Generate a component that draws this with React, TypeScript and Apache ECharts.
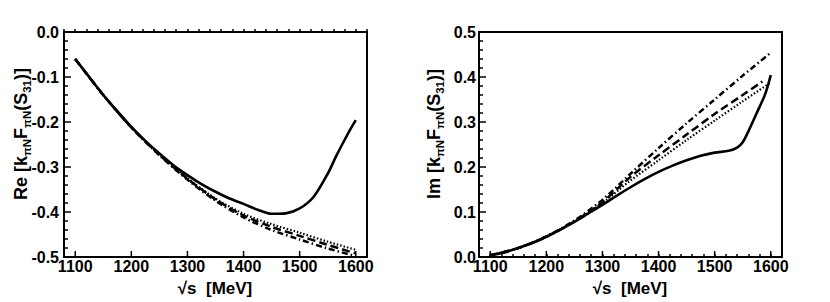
import React, { useEffect, useRef } from "react";
import * as echarts from "echarts";

// ---- data (sqrt(s) in MeV) ----
const X_MIN = 1080;
const X_MAX = 1620;
const X_MAJOR = [1100, 1200, 1300, 1400, 1500, 1600];

// Re part, left panel
const reSolidX = [1100, 1125, 1150, 1175, 1200, 1225, 1250, 1275, 1300, 1325, 1350, 1375, 1400, 1425, 1450, 1475, 1500, 1525, 1550, 1565, 1580, 1590, 1600];
const reSolidY = [-0.060, -0.100, -0.140, -0.176, -0.211, -0.242, -0.270, -0.296, -0.318, -0.338, -0.355, -0.370, -0.382, -0.395, -0.404, -0.403, -0.392, -0.366, -0.315, -0.276, -0.240, -0.217, -0.196];

const reOtherX = [1100, 1150, 1200, 1250, 1300, 1350, 1400, 1450, 1500, 1550, 1600];
const reDotted = [-0.060, -0.140, -0.212, -0.272, -0.325, -0.370, -0.404, -0.427, -0.446, -0.466, -0.484];
const reDashed = [-0.060, -0.140, -0.212, -0.273, -0.326, -0.372, -0.408, -0.433, -0.453, -0.473, -0.492];
const reDashDot = [-0.060, -0.140, -0.212, -0.274, -0.328, -0.375, -0.412, -0.440, -0.461, -0.481, -0.498];

// Im part, right panel
const imSolidX = [1100, 1125, 1150, 1175, 1200, 1225, 1250, 1275, 1300, 1325, 1350, 1375, 1400, 1425, 1450, 1475, 1500, 1525, 1540, 1550, 1560, 1575, 1590, 1600];
const imSolidY = [0.004, 0.010, 0.020, 0.031, 0.045, 0.061, 0.078, 0.097, 0.116, 0.136, 0.155, 0.173, 0.189, 0.203, 0.215, 0.225, 0.232, 0.236, 0.243, 0.255, 0.279, 0.320, 0.362, 0.404];

const imOtherX = [1100, 1150, 1200, 1250, 1300, 1350, 1400, 1450, 1500, 1550, 1600];
const imDotted = [0.004, 0.020, 0.045, 0.079, 0.120, 0.170, 0.215, 0.260, 0.303, 0.346, 0.388];
const imDashedX = [1100, 1150, 1200, 1250, 1300, 1350, 1400, 1450, 1500, 1550, 1585];
const imDashed = [0.004, 0.020, 0.045, 0.079, 0.122, 0.178, 0.226, 0.272, 0.318, 0.360, 0.390];
const imDashDot = [0.004, 0.020, 0.046, 0.081, 0.127, 0.185, 0.242, 0.297, 0.350, 0.403, 0.454];

const FONT = "Liberation Sans";

const zip = (xs: number[], ys: number[]) => xs.map((x, i) => [x, ys[i]]);

export default function App() {
  const ref = useRef<HTMLDivElement>(null);

  useEffect(() => {
    if (!ref.current) return;
    const chart = echarts.init(ref.current, undefined, { renderer: "svg" });

    const mkX = (gridIndex: number) => ({
      type: "value",
      gridIndex,
      min: X_MIN,
      max: X_MAX,
      interval: 20,
      axisLine: { show: true, lineStyle: { color: "#000", width: 2 } },
      axisTick: { show: true, inside: true, length: 3, lineStyle: { color: "#000", width: 1.5 } },
      splitLine: { show: false },
      axisLabel: {
        fontFamily: FONT,
        fontWeight: 700,
        fontSize: 16,
        color: "#000",
        margin: 1,
        formatter: (v: number) => (v % 100 === 0 ? String(v) : ""),
      },
    });

    const mkY = (gridIndex: number, min: number, max: number, margin: number) => ({
      type: "value",
      gridIndex,
      min,
      max,
      interval: 0.1,
      axisLine: { show: true, lineStyle: { color: "#000", width: 2 } },
      axisTick: { show: true, inside: true, length: 7, lineStyle: { color: "#000", width: 1.5 } },
      minorTick: { show: true, splitNumber: 5, length: 4, lineStyle: { color: "#000", width: 1.5 } },
      splitLine: { show: false },
      minorSplitLine: { show: false },
      axisLabel: {
        fontFamily: FONT,
        fontWeight: 700,
        fontSize: 16,
        color: "#000",
        margin,
        padding: [4, 0, 0, 0],
        formatter: (v: number) => v.toFixed(1),
      },
    });

    const line = (
      name: string,
      idx: number,
      data: number[][],
      type: any,
      width = 2.5
    ) => ({
      name,
      type: "line",
      xAxisIndex: idx,
      yAxisIndex: idx,
      data,
      showSymbol: false,
      smooth: 0.3,
      lineStyle: { color: "#000", width, type },
      z: 3,
    });

    const majorTicks = (idx: number, yBase: number) => ({
      type: "custom",
      xAxisIndex: idx,
      yAxisIndex: idx,
      data: X_MAJOR.map((v) => [v, yBase]),
      clip: false,
      silent: true,
      renderItem: (_params: any, api: any) => {
        const p = api.coord([api.value(0), api.value(1)]);
        return {
          type: "line",
          shape: { x1: p[0], y1: p[1], x2: p[0], y2: p[1] - 6 },
          style: { stroke: "#000", lineWidth: 1.5 },
        };
      },
      z: 4,
    });

    const sub = {
      fontFamily: FONT,
      fontWeight: 700,
      fontSize: 11.5,
      lineHeight: 11,
      verticalAlign: "bottom",
      fill: "#000",
    };
    const main = {
      fontFamily: FONT,
      fontWeight: 700,
      fontSize: 18,
      lineHeight: 24,
      fill: "#000",
    };

    const yTitle = (prefix: string, x: number, y: number) => ({
      type: "text",
      x,
      y,
      rotation: Math.PI / 2,
      style: {
        text: `{m|${prefix} [k}{s|πN}{m|F}{s|πN}{m|(S}{s|31}{m|)]}`,
        rich: { m: main, s: sub },
        fontFamily: FONT,
        fontWeight: 700,
        fontSize: 18,
        align: "center",
        verticalAlign: "middle",
        fill: "#000",
      },
    });

    const xTitle = (x: number) => ({
      type: "text",
      x,
      y: 288,
      style: {
        text: "√s  [MeV]",
        fontFamily: FONT,
        fontWeight: 700,
        fontSize: 17,
        fill: "#000",
        align: "center",
        verticalAlign: "middle",
      },
    });

    chart.setOption({
      animation: false,
      backgroundColor: "#fff",
      textStyle: { fontFamily: FONT, fontWeight: 700, fontSize: 16, color: "#000" },
      grid: [
        { left: 64, top: 32, width: 303, height: 225, show: true, borderColor: "#000", borderWidth: 2 },
        { left: 479, top: 32, width: 303, height: 225, show: true, borderColor: "#000", borderWidth: 2 },
      ],
      xAxis: [mkX(0), mkX(1)],
      yAxis: [mkY(0, -0.5, 0, 5), mkY(1, 0, 0.5, 3)],
      series: [
        line("Re solid", 0, zip(reSolidX, reSolidY), "solid", 2.6),
        line("Re dotted", 0, zip(reOtherX, reDotted), [1.5, 2], 2.2),
        line("Re dashed", 0, zip(reOtherX, reDashed), [8, 4], 2.5),
        line("Re dash-dot", 0, zip(reOtherX, reDashDot), [6, 3, 1.5, 3], 2.5),
        line("Im solid", 1, zip(imSolidX, imSolidY), "solid", 2.6),
        line("Im dotted", 1, zip(imOtherX, imDotted), [1.5, 2], 2.2),
        line("Im dashed", 1, zip(imDashedX, imDashed), [8, 4], 2.5),
        line("Im dash-dot", 1, zip(imOtherX, imDashDot), [6, 3, 1.5, 3], 2.5),
        majorTicks(0, -0.5),
        majorTicks(1, 0),
      ],
      graphic: [yTitle("Re", 21, 134), yTitle("Im", 434, 134), xTitle(215), xTitle(630)],
    });

    return () => chart.dispose();
  }, []);

  return (
    <div
      ref={ref}
      style={{ position: "absolute", left: 0, top: 0, width: 830, height: 302 }}
    />
  );
}
